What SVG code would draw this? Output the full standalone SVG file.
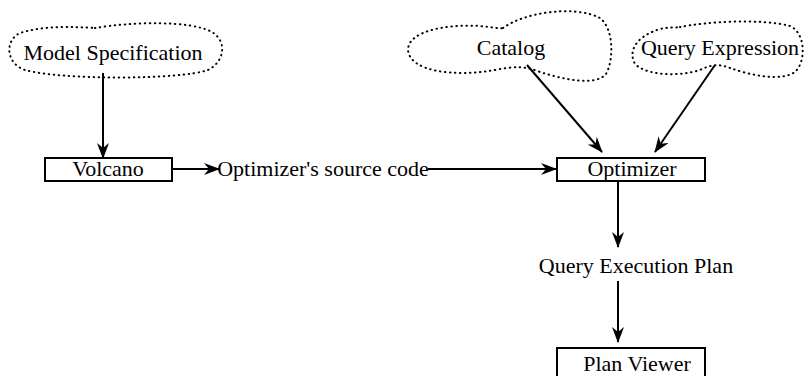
<svg xmlns="http://www.w3.org/2000/svg" width="807" height="376" viewBox="0 0 807 376">
<style>
text{font-family:"Liberation Serif","Times New Roman",serif;font-size:22px;fill:#000}
.cloud{fill:none;stroke:#000;stroke-width:2;stroke-dasharray:0.5 4.5;stroke-linecap:round}
.box{fill:#fff;stroke:#000;stroke-width:2}
.edge{fill:none;stroke:#000;stroke-width:2}
</style>
<defs>
<marker id="arr" viewBox="0 0 16 12" refX="15" refY="6" markerWidth="16" markerHeight="12" markerUnits="userSpaceOnUse" orient="auto">
<path d="M0,0 L16,6 L0,12 L5,6 Z" fill="#000"/>
</marker>
</defs>
<rect width="807" height="376" fill="#fff"/>
<g id="model-spec">
<path class="cloud" d="M95,28 C130,22 190,20 212,32 C228,42 224,62 208,70 C180,80 60,80 25,70 C5,63 5,40 20,33 C45,25 75,27 95,28 Z"/>
<text x="113" y="60" text-anchor="middle">Model Specification</text>
</g>
<g id="catalog">
<path class="cloud" d="M503,28 C525,12 575,5 600,18 C615,30 613,62 606,74 C596,86 565,80 540,72 C525,66 515,66 495,70 C455,77 410,72 408,50 C408,30 450,24 480,26 C492,27 498,29 503,28 Z"/>
<text x="511" y="55" text-anchor="middle">Catalog</text>
</g>
<g id="query-expr">
<path class="cloud" d="M680,27 C705,22 760,18 790,26 C806,33 806,62 795,72 C780,82 750,75 730,68 C720,64 712,64 700,70 C675,78 640,74 634,62 C628,48 640,35 660,29 C668,27 674,28 680,27 Z"/>
<text x="720" y="55" text-anchor="middle">Query Expression</text>
</g>
<g id="volcano">
<rect class="box" x="45" y="158" width="127" height="23"/>
<text x="108" y="176" text-anchor="middle">Volcano</text>
</g>
<g id="optimizer">
<rect class="box" x="557" y="158" width="148" height="23"/>
<text x="632" y="176" text-anchor="middle">Optimizer</text>
</g>
<g id="source-code">
<text x="323" y="176" text-anchor="middle">Optimizer's source code</text>
</g>
<g id="qep">
<text x="636" y="273" text-anchor="middle">Query Execution Plan</text>
</g>
<g id="plan-viewer">
<rect class="box" x="557" y="348" width="148" height="34"/>
<text x="637" y="371" text-anchor="middle">Plan Viewer</text>
</g>
<g id="connectors">
<line class="edge" x1="103" y1="73" x2="103" y2="158" marker-end="url(#arr)"/>
<line class="edge" x1="172" y1="169" x2="219" y2="169" marker-end="url(#arr)"/>
<line class="edge" x1="428" y1="169" x2="556" y2="169" marker-end="url(#arr)"/>
<line class="edge" x1="527" y1="65" x2="602" y2="152" marker-end="url(#arr)"/>
<line class="edge" x1="715" y1="65" x2="655" y2="152" marker-end="url(#arr)"/>
<line class="edge" x1="618" y1="181" x2="618" y2="247" marker-end="url(#arr)"/>
<line class="edge" x1="618" y1="281" x2="618" y2="342" marker-end="url(#arr)"/>
</g>
</svg>
